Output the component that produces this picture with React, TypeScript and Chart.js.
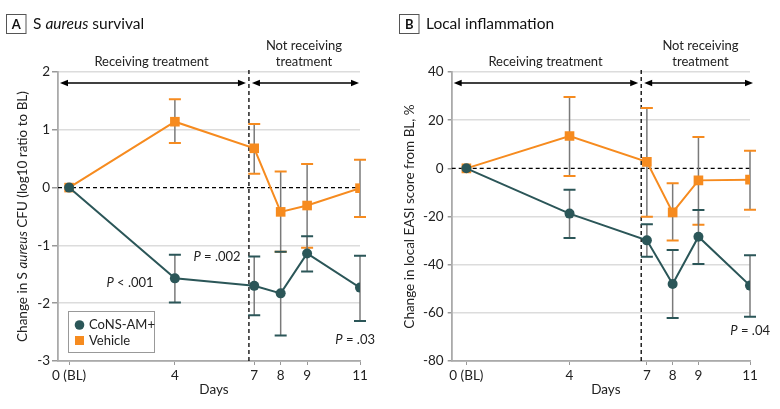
import React, { useEffect, useRef } from "react";
import { Chart, registerables } from "chart.js";
Chart.register(...registerables);

const FONT = "Lato";
const TEAL = "#2b5658";
const ORANGE = "#f68b1f";
const STEM = "#7a7a7a";

const days = [0, 4, 7, 8, 9, 11];
const dayLabels = ["0 (BL)", "4", "7", "8", "9", "11"];

// Panel A: S aureus survival (log10 ratio to BL)
const aConsMean = [0, -1.57, -1.7, -1.83, -1.14, -1.73];
const aConsLow = [0, -1.99, -2.21, -2.56, -1.45, -2.31];
const aConsHigh = [0, -1.16, -1.19, -1.11, -0.84, -1.18];
const aVehMean = [0, 1.14, 0.68, -0.42, -0.31, -0.01];
const aVehLow = [0, 0.77, 0.24, -1.11, -1.04, -0.51];
const aVehHigh = [0, 1.53, 1.1, 0.28, 0.41, 0.48];

// Panel B: Local inflammation (% change in local EASI)
const bConsMean = [0, -18.8, -29.9, -48.0, -28.4, -48.7];
const bConsLow = [0, -28.9, -36.7, -62.1, -39.7, -61.6];
const bConsHigh = [0, -8.9, -23.2, -33.9, -17.3, -36.1];
const bVehMean = [0, 13.4, 2.7, -18.3, -5.0, -4.7];
const bVehLow = [0, -3.2, -20.1, -30.0, -23.4, -17.2];
const bVehHigh = [0, 29.6, 25.1, -6.2, 13.0, 7.3];

const seriesNames = ["CoNS-AM+", "Vehicle"];

type Part = { t: string; i?: boolean };

function richWidth(ctx: CanvasRenderingContext2D, parts: Part[], size: number, weight = "normal") {
  let w = 0;
  for (const p of parts) {
    ctx.font = `${p.i ? "italic " : ""}${weight} ${size}px ${FONT}`;
    w += ctx.measureText(p.t).width;
  }
  return w;
}

function drawRich(
  ctx: CanvasRenderingContext2D,
  parts: Part[],
  x: number,
  y: number,
  size: number,
  align: "left" | "center" | "right",
  color = "#222"
) {
  const w = richWidth(ctx, parts, size);
  let cx = align === "left" ? x : align === "center" ? x - w / 2 : x - w;
  ctx.fillStyle = color;
  ctx.textBaseline = "middle";
  ctx.textAlign = "left";
  for (const p of parts) {
    ctx.font = `${p.i ? "italic " : ""}normal ${size}px ${FONT}`;
    ctx.fillText(p.t, cx, y);
    cx += ctx.measureText(p.t).width;
  }
}

function arrowLine(ctx: CanvasRenderingContext2D, x1: number, x2: number, y: number) {
  ctx.strokeStyle = "#000";
  ctx.fillStyle = "#000";
  ctx.lineWidth = 1.3;
  ctx.setLineDash([]);
  ctx.beginPath();
  ctx.moveTo(x1 + 4, y);
  ctx.lineTo(x2 - 4, y);
  ctx.stroke();
  const head = (tx: number, dir: number) => {
    ctx.beginPath();
    ctx.moveTo(tx, y);
    ctx.lineTo(tx - dir * 8, y - 3.2);
    ctx.lineTo(tx - dir * 8, y + 3.2);
    ctx.closePath();
    ctx.fill();
  };
  head(x1, -1);
  head(x2, 1);
}

type Series = { mean: number[]; low: number[]; high: number[] };

type PanelCfg = {
  letter: string;
  title: Part[];
  yTitle: Part[];
  yTitleX: number;
  yMin: number;
  yMax: number;
  yStep: number;
  xMin: number;
  yAxisWidth: number;
  yTickLen: number;
  yTickPad: number;
  cons: Series;
  veh: Series;
  pLabels: { parts: Part[]; x: number; y: number; align: "left" | "center" | "right" }[];
  legend: boolean;
  dashedDay: number;
  boxX: number;
  recvX: number;
  notX: number;
  arrowRightExtra: number;
};

const panelA: PanelCfg = {
  letter: "A",
  title: [{ t: "S " }, { t: "aureus", i: true }, { t: " survival" }],
  yTitle: [{ t: "Change in S " }, { t: "aureus", i: true }, { t: " CFU (log10 ratio to BL)" }],
  yTitleX: 23,
  yMin: -3,
  yMax: 2,
  yStep: 1,
  xMin: -0.42,
  yAxisWidth: 58,
  yTickLen: 6,
  yTickPad: 2,
  cons: { mean: aConsMean, low: aConsLow, high: aConsHigh },
  veh: { mean: aVehMean, low: aVehLow, high: aVehHigh },
  pLabels: [
    { parts: [{ t: "P", i: true }, { t: " < .001" }], x: 130, y: 283, align: "center" },
    { parts: [{ t: "P", i: true }, { t: " = .002" }], x: 217, y: 257, align: "center" },
    { parts: [{ t: "P", i: true }, { t: " = .03" }], x: 375, y: 340, align: "right" },
  ],
  legend: true,
  dashedDay: 6.8,
  boxX: 6,
  recvX: 151.5,
  notX: 304,
  arrowRightExtra: -1,
};

const panelB: PanelCfg = {
  letter: "B",
  title: [{ t: "Local inflammation" }],
  yTitle: [{ t: "Change in local EASI score from BL, %" }],
  yTitleX: 20,
  yMin: -80,
  yMax: 40,
  yStep: 20,
  xMin: -0.57,
  yAxisWidth: 61.7,
  yTickLen: 4,
  yTickPad: 4,
  cons: { mean: bConsMean, low: bConsLow, high: bConsHigh },
  veh: { mean: bVehMean, low: bVehLow, high: bVehHigh },
  pLabels: [{ parts: [{ t: "P", i: true }, { t: " = .04" }], x: 380, y: 331, align: "right" }],
  legend: false,
  dashedDay: 6.78,
  boxX: 9,
  recvX: 155.5,
  notX: 310.5,
  arrowRightExtra: 3,
};

function makeDecor(cfg: PanelCfg) {
  return {
    id: "decor" + cfg.letter,
    beforeDatasetsDraw(chart: any) {
      const { ctx, chartArea } = chart;
      const { left, right, top, bottom } = chartArea;
      const x = chart.scales.x;
      const y = chart.scales.y;
      ctx.save();
      ctx.strokeStyle = "#000";
      ctx.lineWidth = 1.3;
      ctx.setLineDash([4, 3]);
      const y0 = y.getPixelForValue(0);
      ctx.beginPath();
      ctx.moveTo(left, y0);
      ctx.lineTo(right, y0);
      ctx.stroke();
      const xd = x.getPixelForValue(cfg.dashedDay);
      ctx.beginPath();
      ctx.moveTo(xd, top - 2);
      ctx.lineTo(xd, bottom);
      ctx.stroke();
      ctx.setLineDash([]);
      // error bars
      const drawBars = (s: Series, color: string) => {
        for (let i = 0; i < days.length; i++) {
          if (s.low[i] === s.high[i]) continue;
          const px = x.getPixelForValue(days[i]);
          const pl = y.getPixelForValue(s.low[i]);
          const ph = y.getPixelForValue(s.high[i]);
          ctx.strokeStyle = STEM;
          ctx.lineWidth = 1.5;
          ctx.beginPath();
          ctx.moveTo(px, pl);
          ctx.lineTo(px, ph);
          ctx.stroke();
          ctx.strokeStyle = color;
          ctx.lineWidth = 2;
          ctx.beginPath();
          ctx.moveTo(px - 6, pl);
          ctx.lineTo(px + 6, pl);
          ctx.moveTo(px - 6, ph);
          ctx.lineTo(px + 6, ph);
          ctx.stroke();
        }
      };
      drawBars(cfg.veh, ORANGE);
      drawBars(cfg.cons, TEAL);
      ctx.restore();
    },
    afterDraw(chart: any) {
      const { ctx, chartArea } = chart;
      const { left, right, top, bottom } = chartArea;
      const x = chart.scales.x;
      ctx.save();
      // panel letter box
      ctx.strokeStyle = "#555";
      ctx.lineWidth = 1;
      ctx.strokeRect(cfg.boxX + 0.5, 14.5, 19.5, 19);
      ctx.fillStyle = "#111";
      ctx.font = `bold 13px ${FONT}`;
      ctx.textAlign = "center";
      ctx.textBaseline = "middle";
      ctx.fillText(cfg.letter, cfg.boxX + 10.3, 24.5);
      drawRich(ctx, cfg.title, cfg.boxX + 27, 24, 15.5, "left", "#111");
      // arrows
      const xd = x.getPixelForValue(cfg.dashedDay);
      arrowLine(ctx, left + 2, xd - 3, 83);
      arrowLine(ctx, xd + 3, right + cfg.arrowRightExtra, 83);
      drawRich(ctx, [{ t: "Receiving treatment" }], cfg.recvX, 62, 13, "center");
      drawRich(ctx, [{ t: "Not receiving" }], cfg.notX, 46, 13, "center");
      drawRich(ctx, [{ t: "treatment" }], cfg.notX, 62, 13, "center");
      // axis titles
      drawRich(ctx, [{ t: "Days" }], (left + right) / 2 + 5, 390, 13.5, "center");
      ctx.save();
      ctx.translate(cfg.yTitleX, (top + bottom) / 2);
      ctx.rotate(-Math.PI / 2);
      drawRich(ctx, cfg.yTitle, 0, 0, 13.5, "center");
      ctx.restore();
      // p-values
      for (const p of cfg.pLabels) drawRich(ctx, p.parts, p.x, p.y, 13, p.align);
      // legend
      if (cfg.legend) {
        ctx.strokeStyle = "#999";
        ctx.lineWidth = 1;
        ctx.strokeRect(68.5, 311.5, 86, 41);
        ctx.fillStyle = TEAL;
        ctx.beginPath();
        ctx.arc(79.5, 325, 4.8, 0, Math.PI * 2);
        ctx.fill();
        ctx.fillStyle = ORANGE;
        ctx.fillRect(75, 336, 9, 9);
        drawRich(ctx, [{ t: seriesNames[0] }], 89, 325, 13, "left");
        drawRich(ctx, [{ t: seriesNames[1] }], 89, 340.5, 13, "left");
      }
      ctx.restore();
    },
  };
}

function Panel({ cfg }: { cfg: PanelCfg }) {
  const ref = useRef<HTMLCanvasElement | null>(null);
  useEffect(() => {
    if (!ref.current) return;
    const toPts = (arr: number[]) => arr.map((v, i) => ({ x: days[i], y: v }));
    const chart = new Chart(ref.current, {
      type: "line",
      data: {
        datasets: [
          {
            label: seriesNames[0],
            data: toPts(cfg.cons.mean),
            borderColor: TEAL,
            backgroundColor: TEAL,
            borderWidth: 2,
            pointStyle: "circle",
            pointRadius: 5,
            pointBorderWidth: 0,
            tension: 0,
          },
          {
            label: seriesNames[1],
            data: toPts(cfg.veh.mean),
            borderColor: ORANGE,
            backgroundColor: ORANGE,
            borderWidth: 2,
            pointStyle: "rect",
            pointRadius: 6.8,
            pointBorderWidth: 0,
            tension: 0,
          },
        ],
      },
      options: {
        responsive: false,
        animation: false,
        devicePixelRatio: 1,
        layout: { padding: { left: 0, top: 72, right: 30, bottom: 0 } },
        plugins: { legend: { display: false }, tooltip: { enabled: false }, title: { display: false } },
        scales: {
          x: {
            type: "linear",
            min: cfg.xMin,
            max: 11,
            afterBuildTicks: (scale: any) => {
              scale.ticks = days.map((v) => ({ value: v }));
            },
            afterFit: (scale: any) => {
              scale.height = 48;
            },
            ticks: {
              autoSkip: false,
              maxRotation: 0,
              padding: 3,
              color: "#222",
              font: { family: FONT, size: 13.5 },
              callback: (v: any) => {
                const idx = days.indexOf(Number(v));
                return idx >= 0 ? dayLabels[idx] : "";
              },
            },
            grid: { drawOnChartArea: false, drawTicks: true, tickLength: 4, tickColor: "#999" },
            border: { color: "#aaa", width: 1.8 },
          },
          y: {
            type: "linear",
            min: cfg.yMin,
            max: cfg.yMax,
            afterFit: (scale: any) => {
              scale.width = cfg.yAxisWidth;
            },
            ticks: {
              stepSize: cfg.yStep,
              padding: cfg.yTickPad,
              color: "#222",
              font: { family: FONT, size: 13.5 },
            },
            grid: {
              color: (c: any) => (c.tick && c.tick.value === 0 ? "rgba(0,0,0,0)" : "#dcdcdc"),
              lineWidth: 1.5,
              tickLength: cfg.yTickLen,
              tickColor: "#999",
            },
            border: { color: "#aaa", width: 1.8 },
          },
        },
      },
      plugins: [makeDecor(cfg)],
    } as any);
    return () => chart.destroy();
  }, [cfg]);
  return <canvas ref={ref} width={390} height={409} style={{ display: "block", width: 390, height: 409 }} />;
}

export default function App() {
  return (
    <div style={{ position: "absolute", left: 0, top: 0, width: 780, height: 409, display: "flex", background: "#fff" }}>
      <Panel cfg={panelA} />
      <Panel cfg={panelB} />
    </div>
  );
}
